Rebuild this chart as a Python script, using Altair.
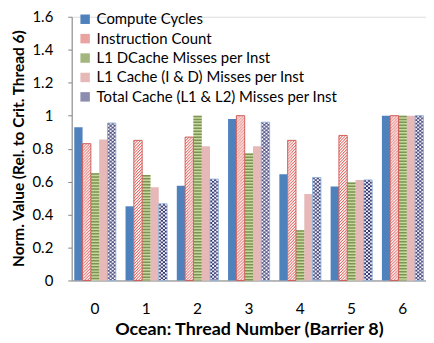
import altair as alt
import pandas as pd

threads = ["0", "1", "2", "3", "4", "5", "6"]
series = [
    "Compute Cycles",
    "Instruction Count",
    "L1 DCache Misses per Inst",
    "L1 Cache (I & D) Misses per Inst",
    "Total Cache (L1 & L2) Misses per Inst",
]
compute_cycles = [0.93, 0.45, 0.575, 0.98, 0.645, 0.57, 1.0]
instruction_count = [0.83, 0.85, 0.87, 1.0, 0.85, 0.88, 1.0]
l1_dcache = [0.65, 0.64, 1.0, 0.77, 0.305, 0.595, 1.0]
l1_cache = [0.855, 0.565, 0.815, 0.815, 0.525, 0.61, 1.0]
total_cache = [0.955, 0.465, 0.615, 0.96, 0.625, 0.61, 1.0]
y_ticks = [0, 0.2, 0.4, 0.6, 0.8, 1.0, 1.2, 1.4, 1.6]

values = [compute_cycles, instruction_count, l1_dcache, l1_cache, total_cache]

FONT = "Lato"
base_fill = ["#4F81BD", "#FFFFFF", "#C6D7A2", "#E6B9B8", "#F2F2F8"]
legend_fill = ["#4F81BD", "#E9A3A1", "#A3B67E", "#E6B9B8", "#8C8CB0"]
outline = ["transparent", "#D0605C", "transparent", "transparent", "#95B3D7"]

rows = []
for k, s in enumerate(series):
    for t, v in zip(threads, values[k]):
        rows.append({"thread": t, "series": s, "k": k, "value": v})
df = pd.DataFrame(rows)
ks = list(range(len(series)))

NSUB = 8
subs = [f"{k}_{j}" for k in ks for j in range(NSUB)]
sub_rows = []
for r in rows:
    for j in range(NSUB):
        sub_rows.append({**r, "j": j, "sub": f"{r['k']}_{j}"})
sub_df = pd.DataFrame(sub_rows)

x_enc = alt.X(
    "thread:N",
    sort=threads,
    scale=alt.Scale(paddingInner=0.19, paddingOuter=0.05),
    axis=alt.Axis(
        title="Ocean: Thread Number (Barrier 8)",
        labelAngle=0,
        ticks=False,
        labelPadding=21,
        labelFontSize=15.5,
        labelColor="#000000",
        titleFontSize=18,
        titleFontWeight="bold",
        titleColor="#000000",
        titlePadding=4,
        domainColor="#868686",
        labelFont=FONT,
        titleFont=FONT,
    ),
)
y_enc = alt.Y(
    "value:Q",
    scale=alt.Scale(domain=[0, 1.6], nice=False),
    axis=alt.Axis(
        title="Norm. Value (Rel. to Crit. Thread 6)",
        values=y_ticks,
        format="~g",
        grid=False,
        tickSize=4,
        labelPadding=15,
        labelFontSize=15,
        labelColor="#000000",
        titleFontSize=15.5,
        titleFontWeight="bold",
        titleColor="#000000",
        titleX=-45,
        titleY=132,
        domainColor="#868686",
        tickColor="#868686",
        labelFont=FONT,
        titleFont=FONT,
    ),
)
xoff_series = alt.XOffset(
    "series:N", scale=alt.Scale(domain=series, paddingInner=0, paddingOuter=0)
)
xoff_sub = alt.XOffset(
    "sub:N", scale=alt.Scale(domain=subs, paddingInner=0, paddingOuter=0)
)

bars = alt.Chart(df).mark_bar(strokeWidth=0).encode(
    x=x_enc,
    xOffset=xoff_series,
    y=y_enc,
    fill=alt.Fill("k:O", scale=alt.Scale(domain=ks, range=base_fill), legend=None),
)

green = alt.Chart(df).transform_filter(alt.datum.k == 2).mark_rule(
    strokeWidth=8.4, strokeDash=[1.5, 1.5], color="#7F9450"
).encode(x=x_enc, xOffset=xoff_series, y=y_enc, y2=alt.datum(0))

layers = [bars, green]

for j in range(NSUB):
    layers.append(
        alt.Chart(sub_df)
        .transform_filter((alt.datum.k == 1) & (alt.datum.j == j))
        .mark_rule(strokeWidth=1.1, strokeDash=[1.3, 1.7], strokeDashOffset=j * 1.06, color="#E06A66")
        .encode(x=x_enc, xOffset=xoff_sub, y=y_enc, y2=alt.datum(0))
    )

for j in range(NSUB):
    layers.append(
        alt.Chart(sub_df)
        .transform_filter((alt.datum.k == 4) & (alt.datum.j == j))
        .mark_rule(strokeWidth=1.1, strokeDash=[1.8, 1.8], strokeDashOffset=(0 if (j // 2) % 2 == 0 else 1.8), color="#34336E")
        .encode(x=x_enc, xOffset=xoff_sub, y=y_enc, y2=alt.datum(0))
    )

outline_layer = alt.Chart(df).mark_bar(fillOpacity=0, strokeWidth=1).encode(
    x=x_enc,
    xOffset=xoff_series,
    y=y_enc,
    stroke=alt.Stroke("k:O", scale=alt.Scale(domain=ks, range=outline), legend=None),
)
layers.append(outline_layer)

legend_layer = alt.Chart(df).transform_filter("false").mark_bar().encode(
    x=x_enc,
    xOffset=xoff_series,
    y=y_enc,
    color=alt.Color(
        "series:N",
        scale=alt.Scale(domain=series, range=legend_fill),
        legend=alt.Legend(
            title=None,
            orient="none",
            legendX=6,
            legendY=-5,
            symbolType="square",
            symbolSize=90,
            symbolStrokeWidth=0,
            labelFontSize=15,
            labelFont=FONT,
            labelColor="#000000",
            labelLimit=400,
            rowPadding=3.5,
            labelOffset=4,
        ),
    ),
)
layers.append(legend_layer)

chart = (
    alt.layer(*layers)
    .resolve_scale(xOffset="independent")
    .properties(
        width=356,
        height=265,
        autosize=alt.AutoSizeParams(type="none"),
        padding={"left": 64, "top": 8, "right": 0, "bottom": 57},
    )
    .configure_view(stroke=None)
    .configure(background="#FFFFFF")
)

chart.save("out.html", embed_options={"renderer": "svg", "actions": False})
